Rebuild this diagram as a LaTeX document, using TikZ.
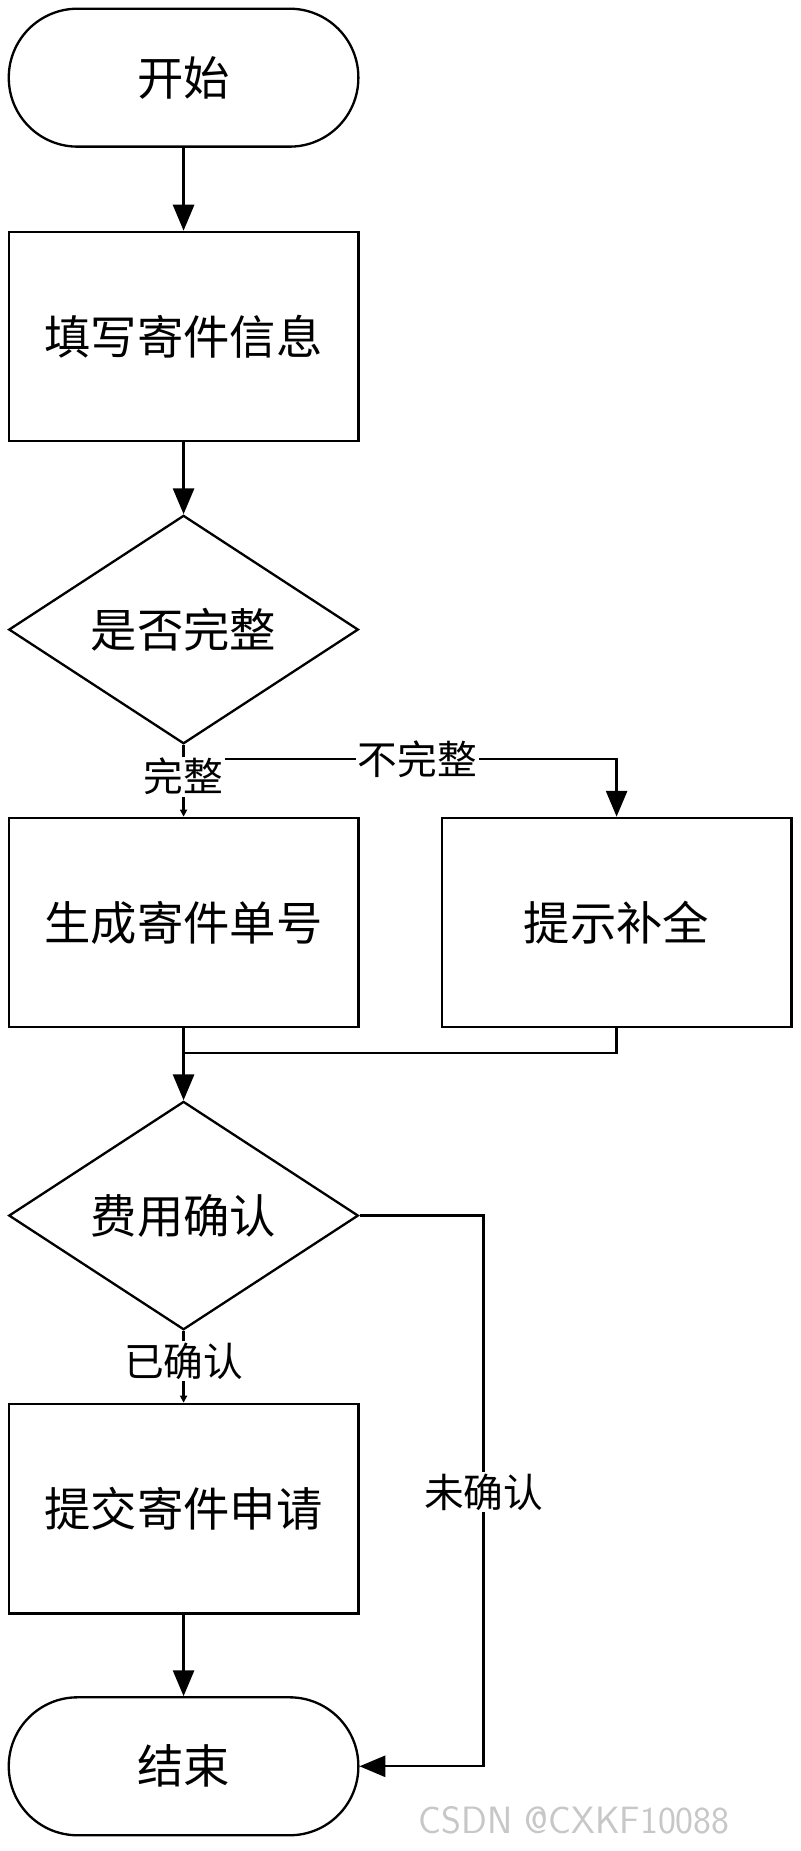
\documentclass[tikz,border=0pt]{standalone}
\usepackage{fontspec}
\setmainfont{Noto Sans CJK SC}
\usetikzlibrary{positioning,shapes.geometric,arrows.meta}
\tikzset{
  box/.style={draw, line width=1.4pt, minimum width=7.425cm, minimum height=4.45cm, font=\fontsize{28}{32}\selectfont},
  term/.style={box, minimum height=2.93cm, rounded corners=1.46cm},
  decide/.style={draw, line width=1.4pt, diamond, inner sep=0pt, minimum width=7.425cm, minimum height=4.4cm, font=\fontsize{28}{32}\selectfont},
  line/.style={line width=1.4pt},
  arr/.style={line, -{Triangle[length=0.55cm,width=0.45cm]}},
  tip/.style={line, -{Triangle[length=0.15cm,width=0.15cm]}},
  lbl/.style={font=\fontsize{24}{28}\selectfont, fill=white, inner sep=1pt}
}
\begin{document}
\begin{tikzpicture}[x=0.025cm, y=-0.025cm]
  \useasboundingbox (0,0) rectangle (680,1573);
  % nodes
  \node[term] (start) at (156,66) {开始};
  \node[box] (fill) at (156,286) {填写寄件信息};
  \node[decide] (full) at (156,535) {是否完整};
  \node[box] (num) at (156,784) {生成寄件单号};
  \node[box] (hint) at (524,784) {提示补全};
  \node[decide] (fee) at (156,1033) {费用确认};
  \node[box] (submit) at (156,1282) {提交寄件申请};
  \node[term] (stop) at (156,1501) {结束};
  \coordinate (split) at (156,645);
  \coordinate (join) at (156,895);
  % connectors
  \draw[arr] (start) -- (fill);
  \draw[arr] (fill) -- (full);
  \draw[line] (full.south) -- (split);
  \draw[tip] (split) -- (num.north);
  \draw[arr] (split) -| node[lbl, pos=0.27] {不完整} (hint.north);
  \draw[arr] (num.south) -- (fee.north);
  \draw[line] (hint.south) |- (join);
  \draw[tip] (fee.south) -- (submit.north);
  \draw[arr] (submit) -- (stop);
  \draw[arr] (fee.east) -| (411,1501) -- (stop.east);
  % labels
  \node[lbl] (lfull) at (156,660) {完整};
  \node[lbl] (lok) at (156,1157) {已确认};
  \node[lbl] (lno) at (411,1268) {未确认};
  \node[text=black!22, font=\fontsize{23}{26}\selectfont\sffamily] (mark) at (488,1547) {CSDN @CXKF10088};
\end{tikzpicture}
\end{document}
